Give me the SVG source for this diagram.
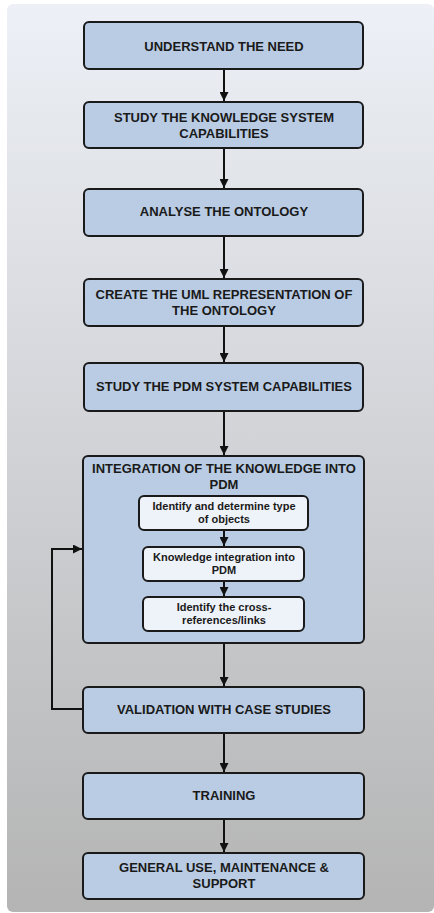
<svg xmlns="http://www.w3.org/2000/svg" width="434" height="913" viewBox="0 0 434 913">
<defs>
<linearGradient id="bg" x1="0" y1="0" x2="0" y2="1">
<stop offset="0" stop-color="#edf0f6"/>
<stop offset="0.45" stop-color="#d3d5d9"/>
<stop offset="1" stop-color="#b4b4b4"/>
</linearGradient>
<marker id="ah" viewBox="0 0 10 10" refX="10" refY="5" markerWidth="4.5" markerHeight="4.5" orient="auto" markerUnits="strokeWidth">
<path d="M0,0 L10,5 L0,10 z" fill="#111"/>
</marker>
<style>
.box{fill:#b9cce4;stroke:#1a1a1a;stroke-width:2}
.sub{fill:#eef2f9;stroke:#1a1a1a;stroke-width:2}
.t{font-family:"Liberation Sans",Arial,sans-serif;font-weight:bold;font-size:13px;fill:#1a1a1a;text-anchor:middle}
.s{font-family:"Liberation Sans",Arial,sans-serif;font-weight:bold;font-size:11px;fill:#1a1a1a;text-anchor:middle}
.c{fill:none;stroke:#111;stroke-width:2}
</style>
</defs>
<rect x="0" y="0" width="434" height="913" fill="#ffffff"/>
<rect x="7" y="4" width="427" height="908" rx="6" fill="url(#bg)"/>

<g id="n1">
<rect class="box" x="84" y="22" width="279" height="47" rx="5"/>
<text class="t" x="224" y="50.5">UNDERSTAND THE NEED</text>
</g>
<g id="n2">
<rect class="box" x="84" y="102" width="279" height="46" rx="5"/>
<text class="t" x="224" y="122">STUDY THE KNOWLEDGE SYSTEM</text>
<text class="t" x="224" y="138">CAPABILITIES</text>
</g>
<g id="n3">
<rect class="box" x="84" y="189" width="279" height="47" rx="5"/>
<text class="t" x="224" y="216">ANALYSE THE ONTOLOGY</text>
</g>
<g id="n4">
<rect class="box" x="84" y="279" width="279" height="47" rx="5"/>
<text class="t" x="224" y="299">CREATE THE UML REPRESENTATION OF</text>
<text class="t" x="224" y="314.5">THE ONTOLOGY</text>
</g>
<g id="n5">
<rect class="box" x="84" y="363" width="279" height="48" rx="5"/>
<text class="t" x="224" y="391">STUDY THE PDM SYSTEM CAPABILITIES</text>
</g>
<g id="n6">
<rect class="box" x="83" y="456" width="281" height="187" rx="5"/>
<text class="t" x="224" y="473">INTEGRATION OF THE KNOWLEDGE INTO</text>
<text class="t" x="224" y="488.5">PDM</text>
</g>
<g id="n6a">
<rect class="sub" x="139" y="496" width="169" height="34" rx="5"/>
<text class="s" x="224" y="510">Identify and determine type</text>
<text class="s" x="224" y="523">of objects</text>
</g>
<g id="n6b">
<rect class="sub" x="143" y="547" width="161" height="34" rx="5"/>
<text class="s" x="224" y="561">Knowledge integration into</text>
<text class="s" x="224" y="574">PDM</text>
</g>
<g id="n6c">
<rect class="sub" x="143" y="597" width="161" height="34" rx="5"/>
<text class="s" x="224" y="611">Identify the cross-</text>
<text class="s" x="224" y="624">references/links</text>
</g>
<g id="n7">
<rect class="box" x="83" y="687" width="281" height="46" rx="5"/>
<text class="t" x="224" y="714">VALIDATION WITH CASE STUDIES</text>
</g>
<g id="n8">
<rect class="box" x="83" y="773" width="281" height="46" rx="5"/>
<text class="t" x="224" y="800">TRAINING</text>
</g>
<g id="n9">
<rect class="box" x="83" y="853" width="281" height="46" rx="5"/>
<text class="t" x="224" y="872">GENERAL USE, MAINTENANCE &amp;</text>
<text class="t" x="224" y="888">SUPPORT</text>
</g>

<g id="connectors">
<path class="c" d="M224,70 V101" marker-end="url(#ah)"/>
<path class="c" d="M224,149 V188" marker-end="url(#ah)"/>
<path class="c" d="M224,237 V278" marker-end="url(#ah)"/>
<path class="c" d="M224,327 V362" marker-end="url(#ah)"/>
<path class="c" d="M224,412 V455" marker-end="url(#ah)"/>
<path class="c" d="M224,531 V546" marker-end="url(#ah)"/>
<path class="c" d="M224,582 V596" marker-end="url(#ah)"/>
<path class="c" d="M224,644 V686" marker-end="url(#ah)"/>
<path class="c" d="M224,734 V772" marker-end="url(#ah)"/>
<path class="c" d="M224,820 V852" marker-end="url(#ah)"/>
<path class="c" d="M82,709 H52 V549 H82" marker-end="url(#ah)"/>
</g>
</svg>
